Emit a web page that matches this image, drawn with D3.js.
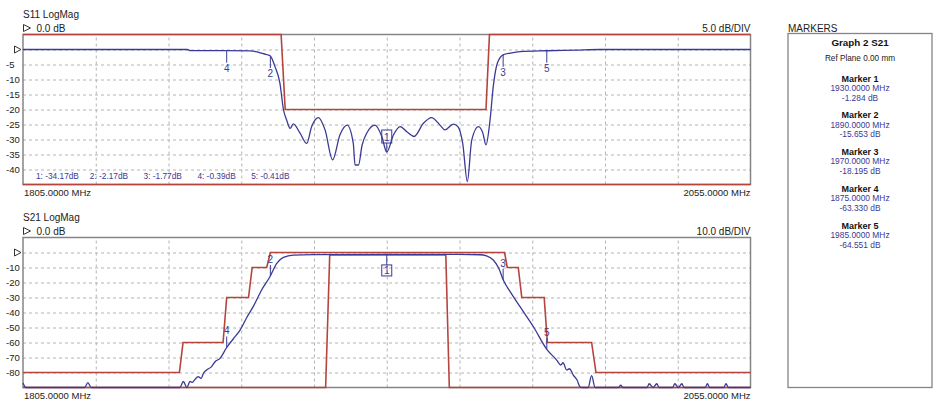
<!DOCTYPE html>
<html><head><meta charset="utf-8">
<script src="https://cdn.jsdelivr.net/npm/d3@7"></script>
<style>
html,body{margin:0;padding:0;background:#fff;}
svg{display:block;font-family:"Liberation Sans",Arial,sans-serif;}
</style></head><body>
<svg id="c" width="939" height="404"></svg>
<script>
// ---------- data ----------
const freqDomain = [1805, 2055];
const freqTicks = [1830, 1855, 1880, 1905, 1930, 1955, 1980, 2005, 2030];
const s11Domain = [5, -45];
const s21Domain = [10, -90];
const s11Ticks = [0, -5, -10, -15, -20, -25, -30, -35, -40];
const s21Ticks = [0, -10, -20, -30, -40, -50, -60, -70, -80];

const s11Freq = [1805,1861.5,1862.5,1875,1883,1885,1886.5,1888,1889.3,1890,1891.6,1893.3,1894.5,1895.6,1896.8,1897.9,1900.2,1902.5,1904.2,1906.5,1908.8,1911.4,1913.9,1916.4,1918.5,1919.1,1920.3,1921.5,1923.1,1926,1928.3,1930,1932.3,1934.6,1936.9,1939.4,1942.6,1945.4,1948.3,1950,1952.9,1954.5,1956.1,1957.7,1959.2,1961.5,1963,1964.1,1965.5,1966.6,1968,1970,1972.5,1975.8,1985,1995,2003,2055];
const s11Db = [0,0,-0.38,-0.39,-0.45,-0.7,-1.1,-1.5,-1.85,-2.17,-5.7,-11.3,-20,-23.5,-26.3,-24.8,-27.9,-31.3,-25.7,-22.7,-26.8,-36.8,-28.5,-25.2,-31.3,-38.5,-38.5,-32,-27.9,-25.2,-29,-34.17,-28.5,-25.7,-27.4,-29,-24.6,-22.7,-25.2,-26.8,-24.9,-25.8,-31.3,-44,-30.2,-25.7,-27.8,-31.8,-23.5,-12.4,-4.6,-1.77,-1.2,-0.7,-0.41,-0.2,0,0];

const s21Freq = [1805,1806,1826.2,1827.3,1828.4,1858.9,1860.1,1861.3,1862.4,1863.2,1864.1,1865.2,1866.2,1867,1868.1,1869.8,1871,1872.7,1875,1877.3,1879.6,1882,1884.1,1887,1890,1892.2,1894.5,1897.9,1905,1930,1955,1962,1964.3,1966.6,1968.5,1970,1972.4,1975.8,1980.4,1985,1988.4,1989.8,1990.6,1991.8,1992.8,1994.1,1995.4,1996.4,1997.2,1999.2,2000.4,2001.6,2009.6,2010.4,2011.2,2019.4,2020.2,2021.5,2022.8,2023.6,2028.2,2029,2030.2,2031.4,2032.2,2039.4,2040.2,2041,2045.8,2046.6,2047.4,2055];
const s21Db = [-87,-90,-90,-86.8,-90,-90,-86,-90,-86,-86.6,-84.6,-82.8,-84,-80.6,-78.3,-76.1,-72.8,-70.6,-63.33,-57.5,-51.7,-43,-36.1,-25,-15.65,-7.2,-3.2,-1.7,-1.4,-1.284,-1.3,-1.5,-2.3,-5,-10.5,-18.195,-26.1,-36.1,-49.5,-64.551,-71.7,-75,-73.5,-78.3,-77.5,-81.7,-85,-89.5,-90,-90,-82.1,-90,-90,-88.5,-90,-90,-87.5,-90,-87.5,-90,-90,-87.5,-90,-87.5,-90,-90,-87.5,-90,-90,-87.5,-90,-90];

const s11UpperFreq = [1805,1893.7,1895.1,1964.1,1965.3,2055];
const s11UpperDb = [5,5,-20,-20,5,5];
const s11LowerFreq = [1805,2055];
const s11LowerDb = [-45,-45];

const s21UpperFreq = [1805,1858.75,1860,1873.75,1875,1882.5,1883.75,1888.75,1890,1970.5,1971.4,1975.2,1976.4,1984.1,1985.2,2000.4,2001.9,2055];
const s21UpperDb = [-80,-80,-60,-60,-30,-30,-10,-10,0,0,-10,-10,-30,-30,-60,-60,-80,-80];
const s21LowerFreq = [1805,1909,1910.4,1950.3,1951.5,2055];
const s21LowerDb = [-90,-90,-1.7,-1.7,-90,-90];

const markerIds = [1,2,3,4,5];
const markerFreqs = [1930,1890,1970,1875,1985];
const s11MarkerDb = [-34.17,-2.17,-1.77,-0.39,-0.41];
const s21MarkerDb = [-1.284,-15.653,-18.195,-63.330,-64.551];

// ---------- style ----------
const BLUE = "#3a3a96", RED = "#b5443e", FRAME = "#858585", GRID = "#b4b4b4";
const X0 = 23, X1 = 750.5;
const svg = d3.select("#c");
const x = d3.scaleLinear().domain(freqDomain).range([X0, X1]);
const zip = (a,b)=>a.map((v,i)=>[v,b[i]]);

function plot(cfg){
  const y = d3.scaleLinear().domain(cfg.domain).range([cfg.top, cfg.bottom]);
  const g = svg.append("g");
  const h = cfg.bottom - cfg.top;
  // vertical grid
  const gx = g.append("g").attr("transform",`translate(0,${cfg.bottom})`)
    .call(d3.axisBottom(x).tickValues(freqTicks).tickSize(-h).tickFormat(""));
  gx.select(".domain").remove();
  gx.selectAll("line").attr("stroke",GRID).attr("stroke-dasharray","3,3");
  // horizontal grid + labels
  const gy = g.append("g").attr("transform",`translate(${X0},0)`)
    .call(d3.axisLeft(y).tickValues(cfg.ticks).tickSize(-(X1-X0)).tickPadding(0)
      .tickFormat(d=> d===0 ? "" : d));
  gy.select(".domain").remove();
  gy.selectAll("line").attr("stroke",GRID).attr("stroke-dasharray","3,3");
  gy.selectAll("text").attr("x", 6 - X0).attr("text-anchor","start")
    .attr("fill","#222").style("font-size","9.5px").style("font-family",'"Liberation Sans",Arial,sans-serif');
  // reference triangle at 0
  const y0 = y(0);
  g.append("path").attr("d",`M14.5,${y0-3.5}L21,${y0}L14.5,${y0+3.5}Z`)
    .attr("fill","none").attr("stroke","#333").attr("stroke-width",1);
  // frame
  g.append("rect").attr("x",X0).attr("y",cfg.top).attr("width",X1-X0).attr("height",h)
    .attr("fill","none").attr("stroke",FRAME).attr("stroke-width",1.5);
  // clip
  const cid = "clip"+cfg.name;
  svg.append("clipPath").attr("id",cid).append("rect")
    .attr("x",X0-2).attr("y",cfg.top-2).attr("width",X1-X0+4).attr("height",h+4);
  const line = d3.line().x(d=>x(d[0])).y(d=>y(d[1]));
  const cg = g.append("g").attr("clip-path",`url(#${cid})`);
  cfg.limits.forEach(L=>{
    cg.append("path").attr("d",line(L)).attr("fill","none").attr("stroke",RED).attr("stroke-width",1.6);
  });
  cg.append("path").attr("d",line.curve(d3.curveMonotoneX)(cfg.trace))
    .attr("fill","none").attr("stroke",BLUE).attr("stroke-width",1.3);
  // headers
  g.append("text").attr("x",23).attr("y",cfg.top-16.5).text(cfg.title)
    .attr("fill","#222").style("font-size","10px");
  const ty = cfg.top - 6.5;
  g.append("path").attr("d",`M23.5,${ty-3.5}L30.5,${ty}L23.5,${ty+3.5}Z`)
    .attr("fill","none").attr("stroke","#333").attr("stroke-width",1);
  g.append("text").attr("x",36.5).attr("y",cfg.top-2.5).text("0.0 dB")
    .attr("fill","#222").style("font-size","10px");
  g.append("text").attr("x",X1).attr("y",cfg.top-2.5).attr("text-anchor","end").text(cfg.scaleText)
    .attr("fill","#222").style("font-size","10px");
  g.append("text").attr("x",X0+1).attr("y",cfg.bottom+11).text(freqDomain[0].toFixed(4)+" MHz")
    .attr("fill","#222").style("font-size","9.5px");
  g.append("text").attr("x",X1).attr("y",cfg.bottom+11).attr("text-anchor","end").text(freqDomain[1].toFixed(4)+" MHz")
    .attr("fill","#222").style("font-size","9.5px");
  // markers
  const mg = g.append("g");
  markerIds.forEach((id,i)=>{
    const cx = x(markerFreqs[i]), cy = y(cfg.mvals[i]);
    if(i===0){
      if(cfg.dir>0){ // box above
        mg.append("line").attr("x1",cx).attr("x2",cx).attr("y1",cy).attr("y2",cy-9).attr("stroke",BLUE);
        mg.append("rect").attr("x",cx-5).attr("y",cy-22).attr("width",10).attr("height",13)
          .attr("fill","none").attr("stroke",BLUE);
        mg.append("text").attr("x",cx).attr("y",cy-11.5).attr("text-anchor","middle").text(id)
          .attr("fill",BLUE).style("font-size","10px");
      } else { // box below
        mg.append("line").attr("x1",cx).attr("x2",cx).attr("y1",cy).attr("y2",cy+10.5).attr("stroke",BLUE);
        mg.append("rect").attr("x",cx-5).attr("y",cy+10.5).attr("width",10).attr("height",11)
          .attr("fill","none").attr("stroke",BLUE);
        mg.append("text").attr("x",cx).attr("y",cy+19.8).attr("text-anchor","middle").text(id)
          .attr("fill",BLUE).style("font-size","10px");
      }
    } else {
      if(cfg.dir>0){
        mg.append("line").attr("x1",cx).attr("x2",cx).attr("y1",cy).attr("y2",cy+12).attr("stroke",BLUE);
        mg.append("text").attr("x",cx).attr("y",cy+21).attr("text-anchor","middle").text(id)
          .attr("fill",BLUE).style("font-size","10px");
      } else {
        mg.append("line").attr("x1",cx).attr("x2",cx).attr("y1",cy).attr("y2",cy-11).attr("stroke",BLUE);
        mg.append("text").attr("x",cx).attr("y",cy-13).attr("text-anchor","middle").text(id)
          .attr("fill",BLUE).style("font-size","10px");
      }
    }
  });
  return {g,y};
}

const p1 = plot({name:"a", top:34.5, bottom:184.5, domain:s11Domain, ticks:s11Ticks,
  title:"S11 LogMag", scaleText:"5.0 dB/DIV",
  limits:[zip(s11UpperFreq,s11UpperDb), zip(s11LowerFreq,s11LowerDb)],
  trace:zip(s11Freq,s11Db), mvals:s11MarkerDb, dir:1});
const p2 = plot({name:"b", top:237.5, bottom:387.5, domain:s21Domain, ticks:s21Ticks,
  title:"S21 LogMag", scaleText:"10.0 dB/DIV",
  limits:[zip(s21UpperFreq,s21UpperDb), zip(s21LowerFreq,s21LowerDb)],
  trace:zip(s21Freq,s21Db), mvals:s21MarkerDb, dir:-1});

// marker readout row in S11 plot
p1.g.append("g").selectAll("text").data(markerIds).join("text")
  .attr("x",(d,i)=>36 + i*53.8).attr("y",178.5)
  .text((d,i)=>`${d}: ${s11MarkerDb[i].toFixed(2)}dB`)
  .attr("fill",BLUE).style("font-size","8.3px");

// ---------- marker panel ----------
const PX0 = 788, PX1 = 932, PCX = (PX0+PX1)/2;
svg.append("text").attr("x",PX0).attr("y",32).text("MARKERS").attr("fill","#222").style("font-size","10px");
svg.append("rect").attr("x",PX0).attr("y",33.5).attr("width",PX1-PX0).attr("height",354)
  .attr("fill","none").attr("stroke",FRAME).attr("stroke-width",1.3);
svg.append("text").attr("x",PCX).attr("y",46).attr("text-anchor","middle").text("Graph 2 S21")
  .attr("fill","#111").style("font-size","9.8px").style("font-weight","bold");
svg.append("text").attr("x",PCX).attr("y",61).attr("text-anchor","middle").text("Ref Plane 0.00 mm")
  .attr("fill","#222").style("font-size","8.2px");
const pg = svg.append("g").selectAll("g").data(markerIds).join("g")
  .attr("transform",(d,i)=>`translate(${PCX},${81.5 + i*36.8})`);
pg.append("text").attr("text-anchor","middle").text(d=>`Marker ${d}`)
  .attr("fill","#111").style("font-size","9px").style("font-weight","bold");
pg.append("text").attr("text-anchor","middle").attr("y",9.3).text((d,i)=>markerFreqs[i].toFixed(4)+" MHz")
  .attr("fill",BLUE).style("font-size","8.4px");
pg.append("text").attr("text-anchor","middle").attr("y",19).text((d,i)=>s21MarkerDb[i].toFixed(3)+" dB")
  .attr("fill",BLUE).style("font-size","8.4px");
</script>
</body></html>
